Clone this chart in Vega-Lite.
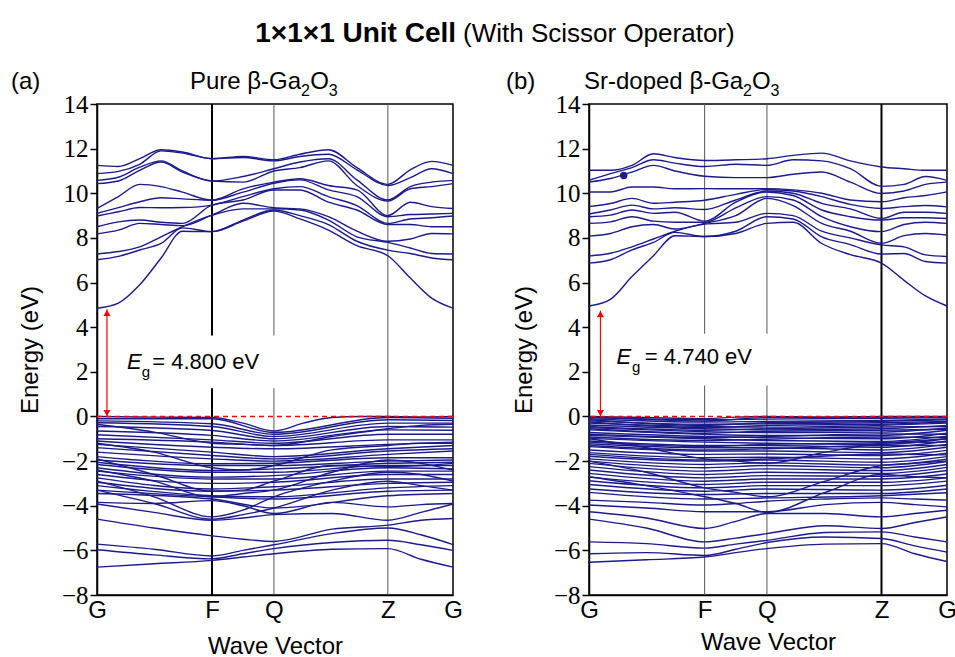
{
"$schema":"https://vega.github.io/schema/vega-lite/v6.json",
"background":"white",
"padding":{"left":10,"top":19,"right":5,"bottom":2},
"config":{"view":{"stroke":"black","strokeWidth":1.5},
 "axis":{"grid":false,"domainColor":"black","domainWidth":1.5,"tickColor":"black","tickWidth":1.5,"labelColor":"black","titleColor":"black","titleFont":"Liberation Sans","titleFontSize":24,"titleFontWeight":"normal"},
 "axisX":{"labelFont":"Liberation Sans","labelFontSize":24,"ticks":false,"labelPadding":3,"labelFlush":false,"labelOverlap":false,"labelBound":false},
 "axisY":{"labelFont":"Liberation Serif","labelFontSize":25,"labelPadding":2,"titlePadding":19}
},
"datasets":{
"a":[
{"n":"c1","x":0,"y":4.85},{"n":"c1","x":0.06,"y":5.08},{"n":"c1","x":0.12,"y":5.9},{"n":"c1","x":0.18,"y":7.1},{"n":"c1","x":0.24,"y":8.3},{"n":"c1","x":0.323,"y":8.28},{"n":"c1","x":0.41,"y":8.75},{"n":"c1","x":0.497,"y":9.2},{"n":"c1","x":0.57,"y":8.85},{"n":"c1","x":0.65,"y":8.35},{"n":"c1","x":0.73,"y":7.65},{"n":"c1","x":0.817,"y":7.2},{"n":"c1","x":0.88,"y":6.2},{"n":"c1","x":0.94,"y":5.3},{"n":"c1","x":1,"y":4.85},
{"n":"c2","x":0,"y":7.02},{"n":"c2","x":0.06,"y":7.17},{"n":"c2","x":0.12,"y":7.46},{"n":"c2","x":0.18,"y":7.75},{"n":"c2","x":0.24,"y":8.45},{"n":"c2","x":0.323,"y":8.28},{"n":"c2","x":0.41,"y":8.8},{"n":"c2","x":0.497,"y":9.25},{"n":"c2","x":0.57,"y":9.0},{"n":"c2","x":0.65,"y":8.6},{"n":"c2","x":0.73,"y":7.85},{"n":"c2","x":0.817,"y":7.45},{"n":"c2","x":0.88,"y":7.3},{"n":"c2","x":0.94,"y":7.1},{"n":"c2","x":1,"y":7.02},
{"n":"c3","x":0,"y":7.28},{"n":"c3","x":0.06,"y":7.39},{"n":"c3","x":0.12,"y":7.6},{"n":"c3","x":0.18,"y":8.05},{"n":"c3","x":0.24,"y":8.5},{"n":"c3","x":0.323,"y":9.02},{"n":"c3","x":0.41,"y":9.3},{"n":"c3","x":0.497,"y":9.3},{"n":"c3","x":0.57,"y":9.25},{"n":"c3","x":0.65,"y":8.8},{"n":"c3","x":0.73,"y":8.05},{"n":"c3","x":0.817,"y":7.8},{"n":"c3","x":0.88,"y":7.55},{"n":"c3","x":0.94,"y":7.3},{"n":"c3","x":1,"y":7.28},
{"n":"c4","x":0,"y":8.18},{"n":"c4","x":0.06,"y":8.35},{"n":"c4","x":0.12,"y":8.65},{"n":"c4","x":0.18,"y":8.6},{"n":"c4","x":0.24,"y":8.55},{"n":"c4","x":0.323,"y":9.02},{"n":"c4","x":0.41,"y":9.55},{"n":"c4","x":0.497,"y":9.35},{"n":"c4","x":0.57,"y":9.3},{"n":"c4","x":0.65,"y":8.95},{"n":"c4","x":0.73,"y":8.3},{"n":"c4","x":0.817,"y":7.85},{"n":"c4","x":0.88,"y":7.95},{"n":"c4","x":0.94,"y":8.2},{"n":"c4","x":1,"y":8.18},
{"n":"c5","x":0,"y":8.5},{"n":"c5","x":0.06,"y":8.72},{"n":"c5","x":0.12,"y":8.8},{"n":"c5","x":0.18,"y":8.7},{"n":"c5","x":0.24,"y":8.65},{"n":"c5","x":0.323,"y":9.47},{"n":"c5","x":0.41,"y":9.7},{"n":"c5","x":0.497,"y":10.15},{"n":"c5","x":0.57,"y":10.15},{"n":"c5","x":0.65,"y":9.6},{"n":"c5","x":0.73,"y":9.25},{"n":"c5","x":0.817,"y":8.6},{"n":"c5","x":0.88,"y":8.6},{"n":"c5","x":0.94,"y":8.5},{"n":"c5","x":1,"y":8.5},
{"n":"c6","x":0,"y":8.98},{"n":"c6","x":0.06,"y":9.17},{"n":"c6","x":0.12,"y":9.36},{"n":"c6","x":0.18,"y":9.35},{"n":"c6","x":0.24,"y":9.36},{"n":"c6","x":0.323,"y":9.47},{"n":"c6","x":0.41,"y":9.85},{"n":"c6","x":0.497,"y":10.2},{"n":"c6","x":0.57,"y":10.3},{"n":"c6","x":0.65,"y":9.85},{"n":"c6","x":0.73,"y":9.45},{"n":"c6","x":0.817,"y":8.65},{"n":"c6","x":0.88,"y":8.85},{"n":"c6","x":0.94,"y":8.9},{"n":"c6","x":1,"y":8.98},
{"n":"c7","x":0,"y":9.1},{"n":"c7","x":0.06,"y":9.36},{"n":"c7","x":0.12,"y":9.62},{"n":"c7","x":0.18,"y":9.8},{"n":"c7","x":0.24,"y":9.75},{"n":"c7","x":0.323,"y":9.69},{"n":"c7","x":0.41,"y":10.05},{"n":"c7","x":0.497,"y":10.45},{"n":"c7","x":0.57,"y":10.6},{"n":"c7","x":0.65,"y":10.15},{"n":"c7","x":0.73,"y":9.85},{"n":"c7","x":0.817,"y":8.95},{"n":"c7","x":0.88,"y":9.05},{"n":"c7","x":0.94,"y":9.07},{"n":"c7","x":1,"y":9.1},
{"n":"c8","x":0,"y":9.32},{"n":"c8","x":0.06,"y":9.85},{"n":"c8","x":0.12,"y":10.4},{"n":"c8","x":0.18,"y":10.3},{"n":"c8","x":0.24,"y":10.05},{"n":"c8","x":0.323,"y":9.69},{"n":"c8","x":0.41,"y":10.2},{"n":"c8","x":0.497,"y":10.5},{"n":"c8","x":0.57,"y":10.65},{"n":"c8","x":0.65,"y":10.35},{"n":"c8","x":0.73,"y":10.15},{"n":"c8","x":0.817,"y":9.0},{"n":"c8","x":0.88,"y":9.6},{"n":"c8","x":0.94,"y":9.4},{"n":"c8","x":1,"y":9.32},
{"n":"c9","x":0,"y":10.43},{"n":"c9","x":0.06,"y":10.55},{"n":"c9","x":0.12,"y":11.03},{"n":"c9","x":0.18,"y":11.4},{"n":"c9","x":0.24,"y":10.95},{"n":"c9","x":0.323,"y":10.55},{"n":"c9","x":0.41,"y":10.5},{"n":"c9","x":0.497,"y":11.0},{"n":"c9","x":0.57,"y":11.15},{"n":"c9","x":0.65,"y":11.45},{"n":"c9","x":0.73,"y":10.35},{"n":"c9","x":0.817,"y":9.65},{"n":"c9","x":0.88,"y":10.2},{"n":"c9","x":0.94,"y":10.3},{"n":"c9","x":1,"y":10.43},
{"n":"c10","x":0,"y":10.58},{"n":"c10","x":0.06,"y":10.72},{"n":"c10","x":0.12,"y":11.17},{"n":"c10","x":0.18,"y":11.45},{"n":"c10","x":0.24,"y":11.0},{"n":"c10","x":0.323,"y":10.55},{"n":"c10","x":0.41,"y":10.75},{"n":"c10","x":0.497,"y":11.1},{"n":"c10","x":0.57,"y":11.4},{"n":"c10","x":0.65,"y":11.55},{"n":"c10","x":0.73,"y":10.6},{"n":"c10","x":0.817,"y":9.7},{"n":"c10","x":0.88,"y":10.3},{"n":"c10","x":0.94,"y":10.5},{"n":"c10","x":1,"y":10.58},
{"n":"c11","x":0,"y":10.88},{"n":"c11","x":0.06,"y":10.98},{"n":"c11","x":0.12,"y":11.3},{"n":"c11","x":0.18,"y":11.9},{"n":"c11","x":0.24,"y":11.8},{"n":"c11","x":0.323,"y":11.55},{"n":"c11","x":0.41,"y":11.6},{"n":"c11","x":0.497,"y":11.45},{"n":"c11","x":0.57,"y":11.65},{"n":"c11","x":0.65,"y":11.75},{"n":"c11","x":0.73,"y":11.05},{"n":"c11","x":0.817,"y":10.35},{"n":"c11","x":0.88,"y":10.7},{"n":"c11","x":0.94,"y":11.1},{"n":"c11","x":1,"y":10.88},
{"n":"c12","x":0,"y":11.25},{"n":"c12","x":0.06,"y":11.2},{"n":"c12","x":0.12,"y":11.55},{"n":"c12","x":0.18,"y":11.95},{"n":"c12","x":0.24,"y":11.85},{"n":"c12","x":0.323,"y":11.55},{"n":"c12","x":0.41,"y":11.65},{"n":"c12","x":0.497,"y":11.5},{"n":"c12","x":0.57,"y":11.75},{"n":"c12","x":0.65,"y":11.95},{"n":"c12","x":0.73,"y":11.15},{"n":"c12","x":0.817,"y":10.4},{"n":"c12","x":0.88,"y":11.05},{"n":"c12","x":0.94,"y":11.43},{"n":"c12","x":1,"y":11.25},
{"n":"v0","x":0,"y":0},{"n":"v0","x":0.16,"y":-0.03},{"n":"v0","x":0.323,"y":-0.05},{"n":"v0","x":0.41,"y":-0.3},{"n":"v0","x":0.497,"y":-0.65},{"n":"v0","x":0.58,"y":-0.3},{"n":"v0","x":0.66,"y":-0.05},{"n":"v0","x":0.74,"y":0},{"n":"v0","x":0.817,"y":0},{"n":"v0","x":0.91,"y":-0.02},{"n":"v0","x":1,"y":0},
{"n":"v1","x":0,"y":-0.1},{"n":"v1","x":0.323,"y":-0.1},{"n":"v1","x":0.497,"y":-0.72},{"n":"v1","x":0.817,"y":-0.05},{"n":"v1","x":1,"y":-0.08},
{"n":"v2","x":0,"y":-0.2},{"n":"v2","x":0.323,"y":-0.33},{"n":"v2","x":0.497,"y":-0.8},{"n":"v2","x":0.817,"y":-0.15},{"n":"v2","x":1,"y":-0.18},
{"n":"v3","x":0,"y":-0.28},{"n":"v3","x":0.323,"y":-0.45},{"n":"v3","x":0.497,"y":-0.9},{"n":"v3","x":0.817,"y":-0.3},{"n":"v3","x":1,"y":-0.3},
{"n":"v4","x":0,"y":-0.45},{"n":"v4","x":0.323,"y":-0.63},{"n":"v4","x":0.497,"y":-1.0},{"n":"v4","x":0.817,"y":-0.45},{"n":"v4","x":1,"y":-0.48},
{"n":"v5","x":0,"y":-0.65},{"n":"v5","x":0.323,"y":-0.85},{"n":"v5","x":0.497,"y":-1.1},{"n":"v5","x":0.817,"y":-0.6},{"n":"v5","x":1,"y":-0.62},
{"n":"v6","x":0,"y":-0.82},{"n":"v6","x":0.323,"y":-1.05},{"n":"v6","x":0.497,"y":-1.2},{"n":"v6","x":0.817,"y":-0.8},{"n":"v6","x":1,"y":-0.8},
{"n":"v7","x":0,"y":-1.0},{"n":"v7","x":0.323,"y":-1.15},{"n":"v7","x":0.497,"y":-1.3},{"n":"v7","x":0.817,"y":-1.05},{"n":"v7","x":1,"y":-1.05},
{"n":"v8","x":0,"y":-1.1},{"n":"v8","x":0.323,"y":-1.38},{"n":"v8","x":0.497,"y":-1.45},{"n":"v8","x":0.817,"y":-1.25},{"n":"v8","x":1,"y":-1.15},
{"n":"v9","x":0,"y":-1.25},{"n":"v9","x":0.323,"y":-1.6},{"n":"v9","x":0.497,"y":-1.8},{"n":"v9","x":0.817,"y":-1.45},{"n":"v9","x":1,"y":-1.3},
{"n":"v10","x":0,"y":-1.4},{"n":"v10","x":0.323,"y":-1.75},{"n":"v10","x":0.497,"y":-1.9},{"n":"v10","x":0.817,"y":-1.55},{"n":"v10","x":1,"y":-1.45},
{"n":"v11","x":0,"y":-1.6},{"n":"v11","x":0.323,"y":-1.9},{"n":"v11","x":0.497,"y":-2.0},{"n":"v11","x":0.817,"y":-1.7},{"n":"v11","x":1,"y":-1.55},
{"n":"v12","x":0,"y":-1.8},{"n":"v12","x":0.323,"y":-2.12},{"n":"v12","x":0.497,"y":-2.1},{"n":"v12","x":0.817,"y":-1.85},{"n":"v12","x":1,"y":-1.85},
{"n":"v13","x":0,"y":-1.95},{"n":"v13","x":0.323,"y":-2.2},{"n":"v13","x":0.497,"y":-2.2},{"n":"v13","x":0.817,"y":-2.0},{"n":"v13","x":1,"y":-1.95},
{"n":"v14","x":0,"y":-2.05},{"n":"v14","x":0.323,"y":-2.42},{"n":"v14","x":0.497,"y":-2.35},{"n":"v14","x":0.817,"y":-2.1},{"n":"v14","x":1,"y":-2.05},
{"n":"v15","x":0,"y":-2.15},{"n":"v15","x":0.323,"y":-2.5},{"n":"v15","x":0.497,"y":-2.5},{"n":"v15","x":0.817,"y":-2.2},{"n":"v15","x":1,"y":-2.2},
{"n":"v16","x":0,"y":-2.3},{"n":"v16","x":0.323,"y":-2.72},{"n":"v16","x":0.497,"y":-2.65},{"n":"v16","x":0.817,"y":-2.3},{"n":"v16","x":1,"y":-2.35},
{"n":"v17","x":0,"y":-2.45},{"n":"v17","x":0.323,"y":-2.8},{"n":"v17","x":0.497,"y":-2.8},{"n":"v17","x":0.817,"y":-2.45},{"n":"v17","x":1,"y":-2.45},
{"n":"v18","x":0,"y":-2.6},{"n":"v18","x":0.323,"y":-3.0},{"n":"v18","x":0.497,"y":-2.95},{"n":"v18","x":0.817,"y":-2.6},{"n":"v18","x":1,"y":-2.6},
{"n":"v19","x":0,"y":-2.75},{"n":"v19","x":0.323,"y":-3.25},{"n":"v19","x":0.497,"y":-3.15},{"n":"v19","x":0.817,"y":-2.8},{"n":"v19","x":1,"y":-2.8},
{"n":"v20","x":0,"y":-2.95},{"n":"v20","x":0.323,"y":-3.35},{"n":"v20","x":0.497,"y":-3.3},{"n":"v20","x":0.817,"y":-3.0},{"n":"v20","x":1,"y":-2.95},
{"n":"v21","x":0,"y":-3.1},{"n":"v21","x":0.323,"y":-3.55},{"n":"v21","x":0.497,"y":-3.6},{"n":"v21","x":0.817,"y":-3.2},{"n":"v21","x":1,"y":-3.1},
{"n":"v22","x":0,"y":-3.3},{"n":"v22","x":0.323,"y":-3.6},{"n":"v22","x":0.497,"y":-3.7},{"n":"v22","x":0.817,"y":-3.35},{"n":"v22","x":1,"y":-3.3},
{"n":"v23","x":0,"y":-3.45},{"n":"v23","x":0.323,"y":-3.7},{"n":"v23","x":0.497,"y":-4.1},{"n":"v23","x":0.817,"y":-3.55},{"n":"v23","x":1,"y":-3.45},
{"n":"v24","x":0,"y":-3.85},{"n":"v24","x":0.16,"y":-3.9},{"n":"v24","x":0.323,"y":-3.77},{"n":"v24","x":0.41,"y":-4.0},{"n":"v24","x":0.497,"y":-4.35},{"n":"v24","x":0.66,"y":-3.85},{"n":"v24","x":0.817,"y":-4.05},{"n":"v24","x":0.91,"y":-3.95},{"n":"v24","x":1,"y":-3.9},
{"n":"v25","x":0,"y":-3.92},{"n":"v25","x":0.16,"y":-4.3},{"n":"v25","x":0.323,"y":-4.65},{"n":"v25","x":0.41,"y":-4.55},{"n":"v25","x":0.497,"y":-4.4},{"n":"v25","x":0.66,"y":-4.35},{"n":"v25","x":0.817,"y":-4.65},{"n":"v25","x":0.91,"y":-4.3},{"n":"v25","x":1,"y":-3.92},
{"n":"v26","x":0,"y":-4.6},{"n":"v26","x":0.16,"y":-5.0},{"n":"v26","x":0.323,"y":-5.35},{"n":"v26","x":0.41,"y":-5.5},{"n":"v26","x":0.497,"y":-5.6},{"n":"v26","x":0.66,"y":-5.05},{"n":"v26","x":0.817,"y":-4.87},{"n":"v26","x":0.91,"y":-4.65},{"n":"v26","x":1,"y":-4.57},
{"n":"v27","x":0,"y":-5.72},{"n":"v27","x":0.16,"y":-5.95},{"n":"v27","x":0.323,"y":-6.25},{"n":"v27","x":0.41,"y":-6.0},{"n":"v27","x":0.497,"y":-5.75},{"n":"v27","x":0.66,"y":-5.25},{"n":"v27","x":0.817,"y":-5.0},{"n":"v27","x":0.91,"y":-5.3},{"n":"v27","x":1,"y":-5.74},
{"n":"v28","x":0,"y":-5.97},{"n":"v28","x":0.16,"y":-6.2},{"n":"v28","x":0.323,"y":-6.38},{"n":"v28","x":0.41,"y":-6.15},{"n":"v28","x":0.497,"y":-5.92},{"n":"v28","x":0.66,"y":-5.65},{"n":"v28","x":0.817,"y":-5.55},{"n":"v28","x":0.91,"y":-5.75},{"n":"v28","x":1,"y":-6.0},
{"n":"v29","x":0,"y":-6.75},{"n":"v29","x":0.16,"y":-6.6},{"n":"v29","x":0.323,"y":-6.45},{"n":"v29","x":0.41,"y":-6.3},{"n":"v29","x":0.497,"y":-6.15},{"n":"v29","x":0.66,"y":-5.95},{"n":"v29","x":0.817,"y":-5.92},{"n":"v29","x":0.91,"y":-6.4},{"n":"v29","x":1,"y":-6.75},
{"n":"x1","x":0,"y":-1.9},{"n":"x1","x":0.16,"y":-2.6},{"n":"x1","x":0.323,"y":-3.35},{"n":"x1","x":0.41,"y":-3.3},{"n":"x1","x":0.497,"y":-2.9},{"n":"x1","x":0.66,"y":-2.2},{"n":"x1","x":0.817,"y":-2.25},{"n":"x1","x":0.91,"y":-2.2},{"n":"x1","x":1,"y":-2.1},
{"n":"x2","x":0,"y":-2.9},{"n":"x2","x":0.16,"y":-3.6},{"n":"x2","x":0.323,"y":-4.5},{"n":"x2","x":0.41,"y":-4.2},{"n":"x2","x":0.497,"y":-3.6},{"n":"x2","x":0.66,"y":-2.9},{"n":"x2","x":0.817,"y":-2.5},{"n":"x2","x":0.91,"y":-2.6},{"n":"x2","x":1,"y":-2.9},
{"n":"x3","x":0,"y":-1.2},{"n":"x3","x":0.16,"y":-1.6},{"n":"x3","x":0.323,"y":-2.3},{"n":"x3","x":0.41,"y":-2.4},{"n":"x3","x":0.497,"y":-2.2},{"n":"x3","x":0.66,"y":-1.5},{"n":"x3","x":0.817,"y":-1.3},{"n":"x3","x":0.91,"y":-1.2},{"n":"x3","x":1,"y":-1.2},
{"n":"x4","x":0,"y":-0.35},{"n":"x4","x":0.16,"y":-0.7},{"n":"x4","x":0.323,"y":-1.2},{"n":"x4","x":0.41,"y":-1.25},{"n":"x4","x":0.497,"y":-1.3},{"n":"x4","x":0.66,"y":-0.9},{"n":"x4","x":0.817,"y":-0.55},{"n":"x4","x":0.91,"y":-0.4},{"n":"x4","x":1,"y":-0.35},
{"n":"x5","x":0,"y":-2.4},{"n":"x5","x":0.16,"y":-2.9},{"n":"x5","x":0.323,"y":-3.6},{"n":"x5","x":0.41,"y":-3.45},{"n":"x5","x":0.497,"y":-3.3},{"n":"x5","x":0.66,"y":-2.5},{"n":"x5","x":0.817,"y":-1.95},{"n":"x5","x":0.91,"y":-2.1},{"n":"x5","x":1,"y":-2.4},
{"n":"x6","x":0,"y":-3.3},{"n":"x6","x":0.16,"y":-3.9},{"n":"x6","x":0.323,"y":-4.6},{"n":"x6","x":0.41,"y":-4.4},{"n":"x6","x":0.497,"y":-4.1},{"n":"x6","x":0.66,"y":-3.3},{"n":"x6","x":0.817,"y":-2.9},{"n":"x6","x":0.91,"y":-3.1},{"n":"x6","x":1,"y":-3.3}
],
"b":[
{"n":"c1","x":0,"y":4.95},{"n":"c1","x":0.06,"y":5.25},{"n":"c1","x":0.12,"y":6.27},{"n":"c1","x":0.18,"y":7.2},{"n":"c1","x":0.24,"y":8.1},{"n":"c1","x":0.323,"y":8.06},{"n":"c1","x":0.41,"y":8.2},{"n":"c1","x":0.497,"y":8.65},{"n":"c1","x":0.57,"y":8.7},{"n":"c1","x":0.65,"y":7.75},{"n":"c1","x":0.73,"y":7.25},{"n":"c1","x":0.817,"y":6.87},{"n":"c1","x":0.88,"y":6.1},{"n":"c1","x":0.94,"y":5.4},{"n":"c1","x":1,"y":4.95},
{"n":"c2","x":0,"y":6.87},{"n":"c2","x":0.06,"y":7.02},{"n":"c2","x":0.12,"y":7.46},{"n":"c2","x":0.18,"y":7.8},{"n":"c2","x":0.24,"y":8.25},{"n":"c2","x":0.323,"y":8.06},{"n":"c2","x":0.41,"y":8.3},{"n":"c2","x":0.497,"y":8.95},{"n":"c2","x":0.57,"y":8.85},{"n":"c2","x":0.65,"y":8.05},{"n":"c2","x":0.73,"y":7.7},{"n":"c2","x":0.817,"y":7.28},{"n":"c2","x":0.88,"y":7.3},{"n":"c2","x":0.94,"y":6.94},{"n":"c2","x":1,"y":6.87},
{"n":"c3","x":0,"y":7.19},{"n":"c3","x":0.06,"y":7.31},{"n":"c3","x":0.12,"y":7.6},{"n":"c3","x":0.18,"y":7.95},{"n":"c3","x":0.24,"y":8.3},{"n":"c3","x":0.323,"y":8.62},{"n":"c3","x":0.41,"y":8.7},{"n":"c3","x":0.497,"y":9.1},{"n":"c3","x":0.57,"y":9.0},{"n":"c3","x":0.65,"y":8.3},{"n":"c3","x":0.73,"y":8.0},{"n":"c3","x":0.817,"y":7.69},{"n":"c3","x":0.88,"y":7.6},{"n":"c3","x":0.94,"y":7.24},{"n":"c3","x":1,"y":7.17},
{"n":"c4","x":0,"y":8.08},{"n":"c4","x":0.06,"y":8.2},{"n":"c4","x":0.12,"y":8.5},{"n":"c4","x":0.18,"y":8.6},{"n":"c4","x":0.24,"y":8.4},{"n":"c4","x":0.323,"y":8.65},{"n":"c4","x":0.41,"y":9.0},{"n":"c4","x":0.497,"y":9.77},{"n":"c4","x":0.57,"y":9.45},{"n":"c4","x":0.65,"y":8.65},{"n":"c4","x":0.73,"y":8.3},{"n":"c4","x":0.817,"y":7.76},{"n":"c4","x":0.88,"y":8.1},{"n":"c4","x":0.94,"y":8.2},{"n":"c4","x":1,"y":8.13},
{"n":"c5","x":0,"y":8.65},{"n":"c5","x":0.06,"y":8.72},{"n":"c5","x":0.12,"y":8.95},{"n":"c5","x":0.18,"y":8.75},{"n":"c5","x":0.24,"y":8.7},{"n":"c5","x":0.323,"y":8.7},{"n":"c5","x":0.41,"y":9.35},{"n":"c5","x":0.497,"y":9.85},{"n":"c5","x":0.57,"y":9.7},{"n":"c5","x":0.65,"y":8.95},{"n":"c5","x":0.73,"y":8.5},{"n":"c5","x":0.817,"y":8.28},{"n":"c5","x":0.88,"y":8.6},{"n":"c5","x":0.94,"y":8.7},{"n":"c5","x":1,"y":8.65},
{"n":"c6","x":0,"y":8.95},{"n":"c6","x":0.06,"y":9.02},{"n":"c6","x":0.12,"y":9.25},{"n":"c6","x":0.18,"y":9.1},{"n":"c6","x":0.24,"y":9.15},{"n":"c6","x":0.323,"y":8.75},{"n":"c6","x":0.41,"y":9.6},{"n":"c6","x":0.497,"y":10.06},{"n":"c6","x":0.57,"y":9.9},{"n":"c6","x":0.65,"y":9.25},{"n":"c6","x":0.73,"y":8.95},{"n":"c6","x":0.817,"y":8.8},{"n":"c6","x":0.88,"y":8.9},{"n":"c6","x":0.94,"y":8.9},{"n":"c6","x":1,"y":8.87},
{"n":"c7","x":0,"y":9.07},{"n":"c7","x":0.06,"y":9.25},{"n":"c7","x":0.12,"y":9.47},{"n":"c7","x":0.18,"y":9.3},{"n":"c7","x":0.24,"y":9.35},{"n":"c7","x":0.323,"y":9.27},{"n":"c7","x":0.41,"y":9.7},{"n":"c7","x":0.497,"y":10.1},{"n":"c7","x":0.57,"y":10.0},{"n":"c7","x":0.65,"y":9.55},{"n":"c7","x":0.73,"y":9.3},{"n":"c7","x":0.817,"y":8.87},{"n":"c7","x":0.88,"y":9.15},{"n":"c7","x":0.94,"y":9.15},{"n":"c7","x":1,"y":9.1},
{"n":"c8","x":0,"y":9.4},{"n":"c8","x":0.06,"y":9.54},{"n":"c8","x":0.12,"y":9.77},{"n":"c8","x":0.18,"y":9.55},{"n":"c8","x":0.24,"y":9.6},{"n":"c8","x":0.323,"y":9.69},{"n":"c8","x":0.41,"y":9.95},{"n":"c8","x":0.497,"y":10.17},{"n":"c8","x":0.57,"y":10.1},{"n":"c8","x":0.65,"y":9.85},{"n":"c8","x":0.73,"y":9.5},{"n":"c8","x":0.817,"y":9.32},{"n":"c8","x":0.88,"y":9.4},{"n":"c8","x":0.94,"y":9.45},{"n":"c8","x":1,"y":9.39},
{"n":"c9","x":0,"y":10.06},{"n":"c9","x":0.06,"y":10.06},{"n":"c9","x":0.12,"y":10.28},{"n":"c9","x":0.18,"y":10.28},{"n":"c9","x":0.24,"y":10.2},{"n":"c9","x":0.323,"y":10.21},{"n":"c9","x":0.41,"y":10.2},{"n":"c9","x":0.497,"y":10.21},{"n":"c9","x":0.57,"y":10.15},{"n":"c9","x":0.65,"y":10.0},{"n":"c9","x":0.73,"y":9.7},{"n":"c9","x":0.817,"y":9.62},{"n":"c9","x":0.88,"y":9.8},{"n":"c9","x":0.94,"y":9.9},{"n":"c9","x":1,"y":10.06},
{"n":"c10","x":0,"y":10.5},{"n":"c10","x":0.06,"y":10.66},{"n":"c10","x":0.12,"y":10.95},{"n":"c10","x":0.18,"y":11.25},{"n":"c10","x":0.24,"y":11.0},{"n":"c10","x":0.323,"y":10.76},{"n":"c10","x":0.41,"y":10.7},{"n":"c10","x":0.497,"y":10.7},{"n":"c10","x":0.57,"y":10.85},{"n":"c10","x":0.65,"y":10.95},{"n":"c10","x":0.73,"y":10.5},{"n":"c10","x":0.817,"y":9.99},{"n":"c10","x":0.88,"y":10.1},{"n":"c10","x":0.94,"y":10.4},{"n":"c10","x":1,"y":10.5},
{"n":"c11","x":0,"y":10.58},{"n":"c11","x":0.06,"y":10.88},{"n":"c11","x":0.12,"y":11.15},{"n":"c11","x":0.18,"y":11.5},{"n":"c11","x":0.24,"y":11.35},{"n":"c11","x":0.323,"y":11.2},{"n":"c11","x":0.41,"y":11.3},{"n":"c11","x":0.497,"y":11.25},{"n":"c11","x":0.57,"y":11.5},{"n":"c11","x":0.65,"y":11.45},{"n":"c11","x":0.73,"y":11.1},{"n":"c11","x":0.817,"y":10.31},{"n":"c11","x":0.88,"y":10.4},{"n":"c11","x":0.94,"y":10.75},{"n":"c11","x":1,"y":10.58},
{"n":"c12","x":0,"y":11.03},{"n":"c12","x":0.06,"y":11.03},{"n":"c12","x":0.12,"y":11.25},{"n":"c12","x":0.18,"y":11.77},{"n":"c12","x":0.24,"y":11.6},{"n":"c12","x":0.323,"y":11.47},{"n":"c12","x":0.41,"y":11.5},{"n":"c12","x":0.497,"y":11.55},{"n":"c12","x":0.57,"y":11.7},{"n":"c12","x":0.65,"y":11.8},{"n":"c12","x":0.73,"y":11.45},{"n":"c12","x":0.817,"y":11.18},{"n":"c12","x":0.88,"y":11.1},{"n":"c12","x":0.94,"y":11.03},{"n":"c12","x":1,"y":11.03},
{"n":"v0","x":0,"y":0},{"n":"v0","x":0.16,"y":-0.05},{"n":"v0","x":0.323,"y":-0.1},{"n":"v0","x":0.41,"y":-0.03},{"n":"v0","x":0.497,"y":0},{"n":"v0","x":0.66,"y":-0.03},{"n":"v0","x":0.817,"y":0},{"n":"v0","x":0.91,"y":0},{"n":"v0","x":1,"y":0},
{"n":"v1","x":0,"y":-0.05},{"n":"v1","x":0.323,"y":-0.15},{"n":"v1","x":0.497,"y":-0.12},{"n":"v1","x":0.817,"y":-0.08},{"n":"v1","x":1,"y":-0.06},
{"n":"v2","x":0,"y":-0.1},{"n":"v2","x":0.323,"y":-0.25},{"n":"v2","x":0.497,"y":-0.22},{"n":"v2","x":0.817,"y":-0.18},{"n":"v2","x":1,"y":-0.12},
{"n":"v3","x":0,"y":-0.2},{"n":"v3","x":0.323,"y":-0.35},{"n":"v3","x":0.497,"y":-0.33},{"n":"v3","x":0.817,"y":-0.28},{"n":"v3","x":1,"y":-0.22},
{"n":"v4","x":0,"y":-0.3},{"n":"v4","x":0.323,"y":-0.45},{"n":"v4","x":0.497,"y":-0.48},{"n":"v4","x":0.817,"y":-0.4},{"n":"v4","x":1,"y":-0.3},
{"n":"v5","x":0,"y":-0.38},{"n":"v5","x":0.323,"y":-0.55},{"n":"v5","x":0.497,"y":-0.6},{"n":"v5","x":0.817,"y":-0.55},{"n":"v5","x":1,"y":-0.4},
{"n":"v6","x":0,"y":-0.5},{"n":"v6","x":0.323,"y":-0.68},{"n":"v6","x":0.497,"y":-0.72},{"n":"v6","x":0.817,"y":-0.7},{"n":"v6","x":1,"y":-0.52},
{"n":"v7","x":0,"y":-0.6},{"n":"v7","x":0.323,"y":-0.8},{"n":"v7","x":0.497,"y":-0.85},{"n":"v7","x":0.817,"y":-0.85},{"n":"v7","x":1,"y":-0.62},
{"n":"v8","x":0,"y":-0.72},{"n":"v8","x":0.323,"y":-0.9},{"n":"v8","x":0.497,"y":-0.95},{"n":"v8","x":0.817,"y":-1.0},{"n":"v8","x":1,"y":-0.75},
{"n":"v9","x":0,"y":-0.85},{"n":"v9","x":0.323,"y":-1.0},{"n":"v9","x":0.497,"y":-1.08},{"n":"v9","x":0.817,"y":-1.12},{"n":"v9","x":1,"y":-0.88},
{"n":"v10","x":0,"y":-0.98},{"n":"v10","x":0.323,"y":-1.15},{"n":"v10","x":0.497,"y":-1.2},{"n":"v10","x":0.817,"y":-1.25},{"n":"v10","x":1,"y":-1.0},
{"n":"v11","x":0,"y":-1.1},{"n":"v11","x":0.323,"y":-1.3},{"n":"v11","x":0.497,"y":-1.3},{"n":"v11","x":0.817,"y":-1.38},{"n":"v11","x":1,"y":-1.1},
{"n":"v12","x":0,"y":-1.22},{"n":"v12","x":0.323,"y":-1.4},{"n":"v12","x":0.497,"y":-1.4},{"n":"v12","x":0.817,"y":-1.5},{"n":"v12","x":1,"y":-1.25},
{"n":"v13","x":0,"y":-1.35},{"n":"v13","x":0.323,"y":-1.55},{"n":"v13","x":0.497,"y":-1.55},{"n":"v13","x":0.817,"y":-1.62},{"n":"v13","x":1,"y":-1.38},
{"n":"v14","x":0,"y":-1.5},{"n":"v14","x":0.323,"y":-1.7},{"n":"v14","x":0.497,"y":-1.68},{"n":"v14","x":0.817,"y":-1.75},{"n":"v14","x":1,"y":-1.52},
{"n":"v15","x":0,"y":-1.62},{"n":"v15","x":0.323,"y":-1.85},{"n":"v15","x":0.497,"y":-1.83},{"n":"v15","x":0.817,"y":-1.9},{"n":"v15","x":1,"y":-1.65},
{"n":"v16","x":0,"y":-1.78},{"n":"v16","x":0.323,"y":-2.0},{"n":"v16","x":0.497,"y":-1.95},{"n":"v16","x":0.817,"y":-2.05},{"n":"v16","x":1,"y":-1.8},
{"n":"v17","x":0,"y":-1.9},{"n":"v17","x":0.323,"y":-2.15},{"n":"v17","x":0.497,"y":-2.08},{"n":"v17","x":0.817,"y":-2.18},{"n":"v17","x":1,"y":-1.92},
{"n":"v18","x":0,"y":-2.0},{"n":"v18","x":0.323,"y":-2.3},{"n":"v18","x":0.497,"y":-2.2},{"n":"v18","x":0.817,"y":-2.3},{"n":"v18","x":1,"y":-2.02},
{"n":"v19","x":0,"y":-2.1},{"n":"v19","x":0.323,"y":-2.45},{"n":"v19","x":0.497,"y":-2.35},{"n":"v19","x":0.817,"y":-2.42},{"n":"v19","x":1,"y":-2.15},
{"n":"v20","x":0,"y":-2.25},{"n":"v20","x":0.323,"y":-2.6},{"n":"v20","x":0.497,"y":-2.5},{"n":"v20","x":0.817,"y":-2.55},{"n":"v20","x":1,"y":-2.28},
{"n":"v21","x":0,"y":-2.4},{"n":"v21","x":0.323,"y":-2.75},{"n":"v21","x":0.497,"y":-2.65},{"n":"v21","x":0.817,"y":-2.68},{"n":"v21","x":1,"y":-2.42},
{"n":"v22","x":0,"y":-2.55},{"n":"v22","x":0.323,"y":-2.9},{"n":"v22","x":0.497,"y":-2.8},{"n":"v22","x":0.817,"y":-2.8},{"n":"v22","x":1,"y":-2.58},
{"n":"v23","x":0,"y":-2.72},{"n":"v23","x":0.323,"y":-3.05},{"n":"v23","x":0.497,"y":-2.95},{"n":"v23","x":0.817,"y":-2.95},{"n":"v23","x":1,"y":-2.75},
{"n":"v24","x":0,"y":-2.88},{"n":"v24","x":0.323,"y":-3.2},{"n":"v24","x":0.497,"y":-3.1},{"n":"v24","x":0.817,"y":-3.1},{"n":"v24","x":1,"y":-2.9},
{"n":"v25","x":0,"y":-3.05},{"n":"v25","x":0.323,"y":-3.35},{"n":"v25","x":0.497,"y":-3.25},{"n":"v25","x":0.817,"y":-3.3},{"n":"v25","x":1,"y":-3.08},
{"n":"v26","x":0,"y":-3.25},{"n":"v26","x":0.323,"y":-3.5},{"n":"v26","x":0.497,"y":-3.45},{"n":"v26","x":0.817,"y":-3.45},{"n":"v26","x":1,"y":-3.25},
{"n":"v27","x":0,"y":-3.4},{"n":"v27","x":0.323,"y":-3.7},{"n":"v27","x":0.497,"y":-3.65},{"n":"v27","x":0.817,"y":-3.55},{"n":"v27","x":1,"y":-3.42},
{"n":"v28","x":0,"y":-3.75},{"n":"v28","x":0.16,"y":-3.85},{"n":"v28","x":0.323,"y":-3.97},{"n":"v28","x":0.41,"y":-3.9},{"n":"v28","x":0.497,"y":-3.8},{"n":"v28","x":0.66,"y":-3.7},{"n":"v28","x":0.817,"y":-3.65},{"n":"v28","x":0.91,"y":-3.7},{"n":"v28","x":1,"y":-3.75},
{"n":"v29","x":0,"y":-3.97},{"n":"v29","x":0.16,"y":-4.1},{"n":"v29","x":0.323,"y":-4.27},{"n":"v29","x":0.41,"y":-4.27},{"n":"v29","x":0.497,"y":-4.27},{"n":"v29","x":0.66,"y":-3.95},{"n":"v29","x":0.817,"y":-3.85},{"n":"v29","x":0.91,"y":-3.95},{"n":"v29","x":1,"y":-4.05},
{"n":"v30","x":0,"y":-4.27},{"n":"v30","x":0.16,"y":-4.55},{"n":"v30","x":0.323,"y":-5.02},{"n":"v30","x":0.41,"y":-4.7},{"n":"v30","x":0.497,"y":-4.35},{"n":"v30","x":0.66,"y":-4.35},{"n":"v30","x":0.817,"y":-4.5},{"n":"v30","x":0.91,"y":-4.35},{"n":"v30","x":1,"y":-4.2},
{"n":"v31","x":0,"y":-4.6},{"n":"v31","x":0.16,"y":-5.0},{"n":"v31","x":0.323,"y":-5.62},{"n":"v31","x":0.41,"y":-5.45},{"n":"v31","x":0.497,"y":-5.25},{"n":"v31","x":0.66,"y":-4.9},{"n":"v31","x":0.817,"y":-5.02},{"n":"v31","x":0.91,"y":-4.75},{"n":"v31","x":1,"y":-4.5},
{"n":"v32","x":0,"y":-5.62},{"n":"v32","x":0.16,"y":-5.7},{"n":"v32","x":0.323,"y":-5.9},{"n":"v32","x":0.41,"y":-5.72},{"n":"v32","x":0.497,"y":-5.55},{"n":"v32","x":0.66,"y":-5.2},{"n":"v32","x":0.817,"y":-5.17},{"n":"v32","x":0.91,"y":-5.4},{"n":"v32","x":1,"y":-5.62},
{"n":"v33","x":0,"y":-6.15},{"n":"v33","x":0.16,"y":-6.1},{"n":"v33","x":0.323,"y":-6.23},{"n":"v33","x":0.41,"y":-5.95},{"n":"v33","x":0.497,"y":-5.65},{"n":"v33","x":0.66,"y":-5.4},{"n":"v33","x":0.817,"y":-5.47},{"n":"v33","x":0.91,"y":-5.8},{"n":"v33","x":1,"y":-6.08},
{"n":"v34","x":0,"y":-6.53},{"n":"v34","x":0.16,"y":-6.42},{"n":"v34","x":0.323,"y":-6.3},{"n":"v34","x":0.41,"y":-6.1},{"n":"v34","x":0.497,"y":-5.92},{"n":"v34","x":0.66,"y":-5.72},{"n":"v34","x":0.817,"y":-5.7},{"n":"v34","x":0.91,"y":-6.15},{"n":"v34","x":1,"y":-6.5},
{"n":"x1","x":0,"y":-2.7},{"n":"x1","x":0.16,"y":-3.1},{"n":"x1","x":0.323,"y":-3.6},{"n":"x1","x":0.41,"y":-3.9},{"n":"x1","x":0.497,"y":-4.3},{"n":"x1","x":0.66,"y":-3.4},{"n":"x1","x":0.817,"y":-2.6},{"n":"x1","x":0.91,"y":-2.7},{"n":"x1","x":1,"y":-2.75},
{"n":"x2","x":0,"y":-2.0},{"n":"x2","x":0.16,"y":-2.5},{"n":"x2","x":0.323,"y":-3.2},{"n":"x2","x":0.41,"y":-3.4},{"n":"x2","x":0.497,"y":-3.6},{"n":"x2","x":0.66,"y":-2.9},{"n":"x2","x":0.817,"y":-2.2},{"n":"x2","x":0.91,"y":-2.1},{"n":"x2","x":1,"y":-2.0},
{"n":"x3","x":0,"y":-1.0},{"n":"x3","x":0.16,"y":-1.4},{"n":"x3","x":0.323,"y":-1.9},{"n":"x3","x":0.41,"y":-2.0},{"n":"x3","x":0.497,"y":-2.1},{"n":"x3","x":0.66,"y":-1.6},{"n":"x3","x":0.817,"y":-1.2},{"n":"x3","x":0.91,"y":-1.1},{"n":"x3","x":1,"y":-1.0},
{"n":"w1","x":0,"y":-0.02},{"n":"w1","x":0.323,"y":-0.2},{"n":"w1","x":0.497,"y":-0.05},{"n":"w1","x":0.817,"y":-0.03},{"n":"w1","x":1,"y":-0.03},
{"n":"w2","x":0,"y":-0.15},{"n":"w2","x":0.323,"y":-0.4},{"n":"w2","x":0.497,"y":-0.28},{"n":"w2","x":0.817,"y":-0.22},{"n":"w2","x":1,"y":-0.15},
{"n":"w3","x":0,"y":-0.25},{"n":"w3","x":0.323,"y":-0.5},{"n":"w3","x":0.497,"y":-0.4},{"n":"w3","x":0.817,"y":-0.35},{"n":"w3","x":1,"y":-0.25},
{"n":"w4","x":0,"y":-0.45},{"n":"w4","x":0.323,"y":-0.62},{"n":"w4","x":0.497,"y":-0.55},{"n":"w4","x":0.817,"y":-0.47},{"n":"w4","x":1,"y":-0.45},
{"n":"w5","x":0,"y":-0.55},{"n":"w5","x":0.323,"y":-0.75},{"n":"w5","x":0.497,"y":-0.66},{"n":"w5","x":0.817,"y":-0.62},{"n":"w5","x":1,"y":-0.57},
{"n":"w6","x":0,"y":-0.8},{"n":"w6","x":0.323,"y":-0.95},{"n":"w6","x":0.497,"y":-0.9},{"n":"w6","x":0.817,"y":-0.78},{"n":"w6","x":1,"y":-0.8},
{"n":"w7","x":0,"y":-0.92},{"n":"w7","x":0.323,"y":-1.08},{"n":"w7","x":0.497,"y":-1.02},{"n":"w7","x":0.817,"y":-0.92},{"n":"w7","x":1,"y":-0.94},
{"n":"w8","x":0,"y":-1.15},{"n":"w8","x":0.323,"y":-1.35},{"n":"w8","x":0.497,"y":-1.25},{"n":"w8","x":0.817,"y":-1.18},{"n":"w8","x":1,"y":-1.15},
{"n":"w9","x":0,"y":-1.3},{"n":"w9","x":0.323,"y":-1.5},{"n":"w9","x":0.497,"y":-1.45},{"n":"w9","x":0.817,"y":-1.3},{"n":"w9","x":1,"y":-1.3},
{"n":"w10","x":0,"y":-1.7},{"n":"w10","x":0.323,"y":-1.95},{"n":"w10","x":0.497,"y":-1.9},{"n":"w10","x":0.817,"y":-1.68},{"n":"w10","x":1,"y":-1.72}
]
},
"hconcat":[
{
"width":356,"height":491,
"layer":[
{"data":{"values":[{"x":0.497},{"x":0.817}]},"mark":{"type":"rule","color":"#555555","strokeWidth":1},"encoding":{"x":{"field":"x","type":"quantitative","title":"Wave Vector","scale":{"domain":[0,1],"nice":false,"zero":false},"axis":{"values":[0,0.323,0.497,0.817,1],"labelExpr":"datum.value < 0.1 || datum.value > 0.9 ? 'G' : datum.value < 0.4 ? 'F' : datum.value < 0.6 ? 'Q' : 'Z'","ticks":false,"labelFont":"Liberation Sans","labelFontSize":24,"labelPadding":3,"labelFlush":false,"labelOverlap":false,"labelBound":false,"titlePadding":12}}}},
{"data":{"values":[{"x":0.323}]},"mark":{"type":"rule","color":"#000000","strokeWidth":2},"encoding":{"x":{"field":"x","type":"quantitative","title":"Wave Vector"}}},
{"data":{"values":[{"x":0.06,"x2":0.53,"y":1.26,"y2":3.63}]},"mark":{"type":"rect","color":"white"},"encoding":{"x":{"field":"x","type":"quantitative","title":"Wave Vector"},"x2":{"field":"x2"},"y":{"field":"y","type":"quantitative","title":"Energy (eV)","scale":{"domain":[-8,14],"nice":false,"zero":false},"axis":{"values":[-8,-7,-6,-5,-4,-3,-2,-1,0,1,2,3,4,5,6,7,8,9,10,11,12,13,14],"labelExpr":"datum.value % 2 === 0 ? datum.label : ''","tickSize":{"condition":{"test":"datum.value % 2 === 0","value":7},"value":4},"labelFont":"Liberation Serif","labelFontSize":25,"labelPadding":2,"titlePadding":19}},"y2":{"field":"y2"}}},
{"data":{"name":"a"},"mark":{"type":"line","interpolate":"monotone","color":"#1b1b8c","strokeWidth":1.4},"encoding":{"detail":{"field":"n","type":"nominal"},"x":{"field":"x","type":"quantitative","title":"Wave Vector"},"y":{"field":"y","type":"quantitative","title":"Energy (eV)"}}},
{"data":{"values":[{"y":0}]},"mark":{"type":"rule","color":"#ff0000","strokeWidth":1.5,"strokeDash":[5,4]},"encoding":{"y":{"field":"y","type":"quantitative","title":"Energy (eV)"}}},
{"data":{"values":[{"x":0.028,"y":0,"y2":4.8}]},"mark":{"type":"rule","color":"#ff0000","strokeWidth":1.2},"encoding":{"x":{"field":"x","type":"quantitative","title":"Wave Vector"},"y":{"field":"y","type":"quantitative","title":"Energy (eV)"},"y2":{"field":"y2"}}},
{"data":{"values":[{"x":0.028,"y":4.8}]},"mark":{"type":"point","shape":"triangle-up","filled":true,"color":"#ff0000","opacity":1,"size":50,"yOffset":3.5},"encoding":{"x":{"field":"x","type":"quantitative","title":"Wave Vector"},"y":{"field":"y","type":"quantitative","title":"Energy (eV)"}}},
{"data":{"values":[{"x":0.028,"y":0}]},"mark":{"type":"point","shape":"triangle-down","filled":true,"color":"#ff0000","opacity":1,"size":50,"yOffset":-3.5},"encoding":{"x":{"field":"x","type":"quantitative","title":"Wave Vector"},"y":{"field":"y","type":"quantitative","title":"Energy (eV)"}}},
{"data":{"values":[{"x":0.084,"y":2.14,"t":"E"}]},"mark":{"type":"text","align":"left","baseline":"alphabetic","font":"Liberation Sans","fontSize":22,"fontStyle":"italic","color":"black"},"encoding":{"x":{"field":"x","type":"quantitative","title":"Wave Vector"},"y":{"field":"y","type":"quantitative","title":"Energy (eV)"},"text":{"field":"t"}}},
{"data":{"values":[{"x":0.126,"y":1.76,"t":"g"}]},"mark":{"type":"text","align":"left","baseline":"alphabetic","font":"Liberation Sans","fontSize":15,"color":"black"},"encoding":{"x":{"field":"x","type":"quantitative","title":"Wave Vector"},"y":{"field":"y","type":"quantitative","title":"Energy (eV)"},"text":{"field":"t"}}},
{"data":{"values":[{"x":0.155,"y":2.14,"t":"= 4.800 eV"}]},"mark":{"type":"text","align":"left","baseline":"alphabetic","font":"Liberation Sans","fontSize":22,"color":"black"},"encoding":{"x":{"field":"x","type":"quantitative","title":"Wave Vector"},"y":{"field":"y","type":"quantitative","title":"Energy (eV)"},"text":{"field":"t"}}},
{"data":{"values":[{"x":-0.2416,"y":14.67,"t":"(a)"},{"x":0.261,"y":14.67,"t":"Pure β-Ga"},{"x":0.599,"y":14.67,"t":"O"}]},"mark":{"type":"text","align":"left","baseline":"alphabetic","font":"Liberation Sans","fontSize":24,"color":"black"},"encoding":{"x":{"field":"x","type":"quantitative","title":"Wave Vector"},"y":{"field":"y","type":"quantitative","title":"Energy (eV)"},"text":{"field":"t"}}},
{"data":{"values":[{"x":0.573,"y":14.36,"t":"2"},{"x":0.651,"y":14.36,"t":"3"}]},"mark":{"type":"text","align":"left","baseline":"alphabetic","font":"Liberation Sans","fontSize":16,"color":"black"},"encoding":{"x":{"field":"x","type":"quantitative","title":"Wave Vector"},"y":{"field":"y","type":"quantitative","title":"Energy (eV)"},"text":{"field":"t"}}},
{"data":{"values":[{"x":1.017,"y":16.78,"t":"1×1×1 Unit Cell"}]},"mark":{"type":"text","align":"right","baseline":"alphabetic","font":"Liberation Sans","fontSize":28,"fontWeight":"bold","color":"black","dx":-3},"encoding":{"x":{"field":"x","type":"quantitative","title":"Wave Vector"},"y":{"field":"y","type":"quantitative","title":"Energy (eV)"},"text":{"field":"t"}}},
{"data":{"values":[{"x":1.017,"y":16.78,"t":"(With Scissor Operator)"}]},"mark":{"type":"text","align":"left","baseline":"alphabetic","font":"Liberation Sans","fontSize":26,"color":"black","dx":4},"encoding":{"x":{"field":"x","type":"quantitative","title":"Wave Vector"},"y":{"field":"y","type":"quantitative","title":"Energy (eV)"},"text":{"field":"t"}}}
]
},
{
"width":358,"height":491,
"layer":[
{"data":{"values":[{"x":0.323},{"x":0.497}]},"mark":{"type":"rule","color":"#555555","strokeWidth":1},"encoding":{"x":{"field":"x","type":"quantitative","title":"Wave Vector","scale":{"domain":[0,1],"nice":false,"zero":false},"axis":{"values":[0,0.323,0.497,0.817,1],"labelExpr":"datum.value < 0.1 || datum.value > 0.9 ? 'G' : datum.value < 0.4 ? 'F' : datum.value < 0.6 ? 'Q' : 'Z'","ticks":false,"labelFont":"Liberation Sans","labelFontSize":24,"labelPadding":3,"labelFlush":false,"labelOverlap":false,"labelBound":false,"titlePadding":8}}}},
{"data":{"values":[{"x":0.817}]},"mark":{"type":"rule","color":"#000000","strokeWidth":2},"encoding":{"x":{"field":"x","type":"quantitative","title":"Wave Vector"}}},
{"data":{"values":[{"x":0.06,"x2":0.53,"y":1.39,"y2":3.71}]},"mark":{"type":"rect","color":"white"},"encoding":{"x":{"field":"x","type":"quantitative","title":"Wave Vector"},"x2":{"field":"x2"},"y":{"field":"y","type":"quantitative","title":"Energy (eV)","scale":{"domain":[-8,14],"nice":false,"zero":false},"axis":{"values":[-8,-7,-6,-5,-4,-3,-2,-1,0,1,2,3,4,5,6,7,8,9,10,11,12,13,14],"labelExpr":"datum.value % 2 === 0 ? datum.label : ''","tickSize":{"condition":{"test":"datum.value % 2 === 0","value":7},"value":4},"labelFont":"Liberation Serif","labelFontSize":25,"labelPadding":2,"titlePadding":17}},"y2":{"field":"y2"}}},
{"data":{"name":"b"},"mark":{"type":"line","interpolate":"monotone","color":"#1b1b8c","strokeWidth":1.4},"encoding":{"detail":{"field":"n","type":"nominal"},"x":{"field":"x","type":"quantitative","title":"Wave Vector"},"y":{"field":"y","type":"quantitative","title":"Energy (eV)"}}},
{"data":{"values":[{"x":0.097,"y":10.8}]},"mark":{"type":"point","shape":"circle","filled":true,"color":"#1b1b8c","opacity":1,"size":55},"encoding":{"x":{"field":"x","type":"quantitative","title":"Wave Vector"},"y":{"field":"y","type":"quantitative","title":"Energy (eV)"}}},
{"data":{"values":[{"y":0}]},"mark":{"type":"rule","color":"#ff0000","strokeWidth":1.5,"strokeDash":[5,4]},"encoding":{"y":{"field":"y","type":"quantitative","title":"Energy (eV)"}}},
{"data":{"values":[{"x":0.032,"y":0,"y2":4.74}]},"mark":{"type":"rule","color":"#ff0000","strokeWidth":1.2},"encoding":{"x":{"field":"x","type":"quantitative","title":"Wave Vector"},"y":{"field":"y","type":"quantitative","title":"Energy (eV)"},"y2":{"field":"y2"}}},
{"data":{"values":[{"x":0.032,"y":4.74}]},"mark":{"type":"point","shape":"triangle-up","filled":true,"color":"#ff0000","opacity":1,"size":50,"yOffset":3.5},"encoding":{"x":{"field":"x","type":"quantitative","title":"Wave Vector"},"y":{"field":"y","type":"quantitative","title":"Energy (eV)"}}},
{"data":{"values":[{"x":0.032,"y":0}]},"mark":{"type":"point","shape":"triangle-down","filled":true,"color":"#ff0000","opacity":1,"size":50,"yOffset":-3.5},"encoding":{"x":{"field":"x","type":"quantitative","title":"Wave Vector"},"y":{"field":"y","type":"quantitative","title":"Energy (eV)"}}},
{"data":{"values":[{"x":0.077,"y":2.36,"t":"E"}]},"mark":{"type":"text","align":"left","baseline":"alphabetic","font":"Liberation Sans","fontSize":22,"fontStyle":"italic","color":"black"},"encoding":{"x":{"field":"x","type":"quantitative","title":"Wave Vector"},"y":{"field":"y","type":"quantitative","title":"Energy (eV)"},"text":{"field":"t"}}},
{"data":{"values":[{"x":0.12,"y":1.99,"t":"g"}]},"mark":{"type":"text","align":"left","baseline":"alphabetic","font":"Liberation Sans","fontSize":15,"color":"black"},"encoding":{"x":{"field":"x","type":"quantitative","title":"Wave Vector"},"y":{"field":"y","type":"quantitative","title":"Energy (eV)"},"text":{"field":"t"}}},
{"data":{"values":[{"x":0.156,"y":2.36,"t":"= 4.740 eV"}]},"mark":{"type":"text","align":"left","baseline":"alphabetic","font":"Liberation Sans","fontSize":22,"color":"black"},"encoding":{"x":{"field":"x","type":"quantitative","title":"Wave Vector"},"y":{"field":"y","type":"quantitative","title":"Energy (eV)"},"text":{"field":"t"}}},
{"data":{"values":[{"x":-0.2318,"y":14.67,"t":"(b)"},{"x":-0.014,"y":14.67,"t":"Sr-doped β-Ga"},{"x":0.455,"y":14.67,"t":"O"}]},"mark":{"type":"text","align":"left","baseline":"alphabetic","font":"Liberation Sans","fontSize":24,"color":"black"},"encoding":{"x":{"field":"x","type":"quantitative","title":"Wave Vector"},"y":{"field":"y","type":"quantitative","title":"Energy (eV)"},"text":{"field":"t"}}},
{"data":{"values":[{"x":0.43,"y":14.36,"t":"2"},{"x":0.507,"y":14.36,"t":"3"}]},"mark":{"type":"text","align":"left","baseline":"alphabetic","font":"Liberation Sans","fontSize":16,"color":"black"},"encoding":{"x":{"field":"x","type":"quantitative","title":"Wave Vector"},"y":{"field":"y","type":"quantitative","title":"Energy (eV)"},"text":{"field":"t"}}}
]
}
],
"spacing":136,
"bounds":"flush"
}
